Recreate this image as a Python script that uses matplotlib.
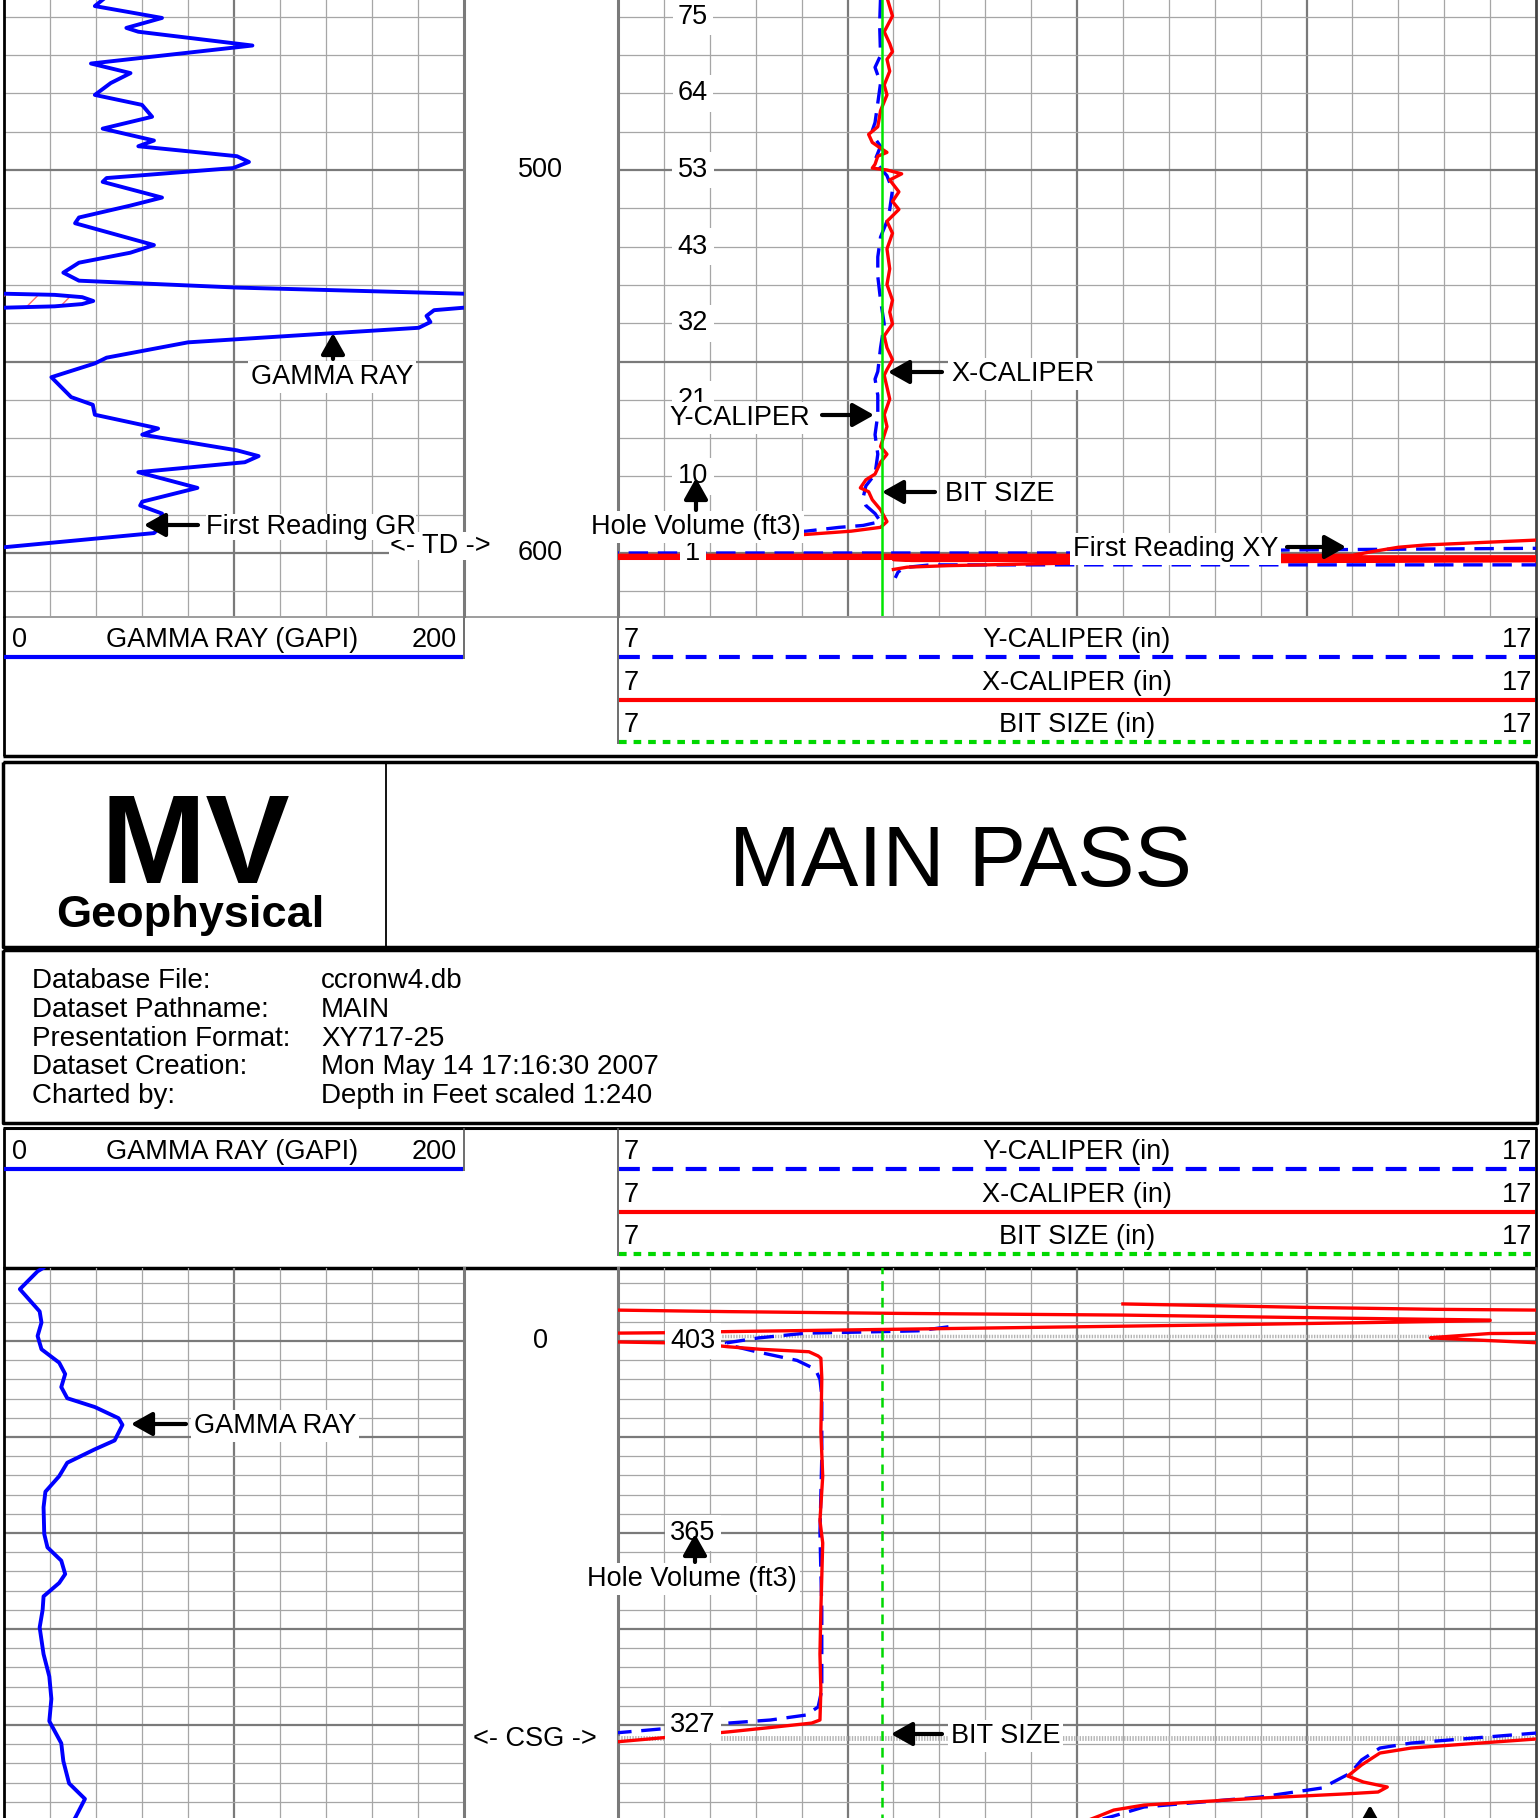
import numpy as np
import matplotlib
matplotlib.use("Agg")
import matplotlib.pyplot as plt

plt.rcParams["font.family"] = ["Liberation Sans", "DejaVu Sans"]
plt.rcParams["lines.scale_dashes"] = False
plt.rcParams["hatch.linewidth"] = 1.0

nan = np.nan

# ============================ DATA ============================
# ---- top section (depth ft) ----
gr_top_depth = [455.0, 457.2, 460.3, 462.9, 463.9, 467.5, 472.2, 474.7, 477.3, 480.4,
                483.0, 486.1, 489.2, 492.3, 493.8, 496.4, 497.9, 499.5, 502.1, 503.1,
                507.2, 509.3, 512.4, 513.9, 519.6, 521.6, 524.2, 526.8, 528.9, 530.7,
                532.3, 532.6, 533.2, 534.2, 535.0, 535.6, 535.95, 536.6, 538.1, 539.7,
                541.2, 542.6, 545.0, 549.0, 550.5, 554.1, 559.3, 561.3, 563.9, 567.0,
                567.5, 569.1, 573.2, 574.7, 576.3, 578.9, 583.0, 586.6, 587.6, 589.7,
                593.8, 594.8, 598.5, 598.7]
gr_top_val = [44.0, 39.5, 68.7, 53.2, 58.4, 108.0, 37.8, 55.0, 46.4, 39.5,
              60.0, 64.4, 42.9, 65.2, 58.4, 101.3, 106.5, 99.6, 44.6, 42.9,
              68.7, 54.9, 32.6, 30.9, 65.2, 54.9, 32.6, 25.8, 32.6, 101.3,
              200.0, 222.0, 234.0, 238.8, 234.0, 222.0, 200.0, 187.0, 183.7, 185.4,
              180.3, 143.0, 80.0, 44.6, 39.5, 20.6, 29.2, 38.6, 39.5, 63.5,
              67.0, 60.1, 101.3, 110.7, 104.7, 58.4, 84.1, 60.1, 59.2, 68.7,
              67.0, 65.2, 0.0, -5.0]

xcal_top_depth = [455.0, 459.8, 463.9, 467.0, 469.1, 471.1, 474.2, 477.8, 480.4, 484.5,
                  488.7, 490.7, 492.8, 494.3, 495.4, 496.4, 498.5, 499.5, 500.0, 501.0,
                  502.6, 505.7, 508.2, 510.3, 513.4, 516.5, 520.6, 525.8, 529.9, 534.0,
                  537.1, 540.2, 543.3, 546.4, 549.5, 552.1, 553.6, 556.7, 559.8, 563.9,
                  567.0, 572.2, 574.2, 576.3, 579.4, 580.9, 583.0, 584.0, 586.1, 588.7,
                  591.8, 593.3, 594.3, 595.1, 595.6, 596.1, 596.5, 596.7,
                  600.6, 600.6, 599.7, 598.5, 597.9, 596.6, 596.5, 601.0, 601.0,
                  601.4, 601.4, 601.7, 601.7, 601.95, 601.95, 602.2, 602.6, 603.3,
                  603.7, 604.3]
xcal_top_val = [9.93, 9.99, 9.90, 9.96, 9.99, 9.93, 9.96, 9.90, 9.93, 9.86,
                9.83, 9.73, 9.77, 9.86, 9.93, 9.83, 9.80, 9.77, 9.93, 10.09,
                9.96, 10.06, 9.99, 10.06, 9.93, 9.99, 9.93, 9.96, 9.93, 9.99,
                9.96, 9.99, 9.90, 9.93, 9.99, 9.93, 9.90, 9.93, 9.96, 9.90,
                9.93, 9.86, 9.93, 9.86, 9.80, 9.70, 9.64, 9.73, 9.77, 9.86,
                9.93, 9.86, 9.54, 9.08, 8.76, 7.9, 6.95, 6.0,
                6.0, 15.0, 15.2, 15.5, 15.8, 17.03, 17.5, 17.5, 6.0,
                6.0, 17.5, 17.5, 10.0, 10.2, 17.5, 14.5, 12.0, 10.6,
                10.15, 10.0]

ycal_top_depth = [455.0, 461.9, 470.1, 473.2, 477.3, 482.5, 487.6, 489.7, 491.8, 493.8,
                  497.4, 499.5, 501.5, 505.2, 510.3, 513.4, 517.5, 522.7, 527.8, 534.0,
                  540.2, 546.4, 552.6, 554.6, 558.8, 563.9, 569.1, 574.2, 579.4, 582.5,
                  585.6, 587.6, 589.7, 591.8, 592.8, 593.3, 594.3, 595.1, 595.9, 596.0,
                  600.0, 600.0, 599.2, 598.7, 603.1, 603.1, 603.8, 605.0, 606.5]
ycal_top_val = [9.86, 9.85, 9.86, 9.80, 9.86, 9.83, 9.80, 9.77, 9.80, 9.86,
                9.80, 9.86, 9.93, 9.99, 9.96, 9.93, 9.86, 9.83, 9.83, 9.86,
                9.90, 9.86, 9.83, 9.80, 9.83, 9.83, 9.80, 9.83, 9.80, 9.70,
                9.67, 9.70, 9.80, 9.86, 9.67, 9.41, 9.05, 8.43, 7.0, 6.0,
                6.0, 13.2, 14.3, 17.5, 17.5, 10.4, 10.12, 10.05, 10.02]

bit_top_depth = [455.0, 617.0]
bit_top_val = [9.875, 9.875]

vol_top_depth = [460, 480, 500, 520, 540, 560, 580, 600]
vol_top_label = ["75", "64", "53", "43", "32", "21", "10", "1"]
depth_top_label = [500, 600]

# ---- bottom section (depth ft) ----
gr_bot_depth = [-38.0, -36.3, -27.0, -15.4, -9.6, -2.6, 4.3, 11.3, 17.2, 24.0,
                29.8, 34.4, 40.2, 43.7, 51.8, 56.4, 63.4, 70.4, 78.5, 86.6,
                100.5, 107.5, 114.4, 121.4, 126.0, 133.0, 140.0, 149.2, 163.1, 174.7,
                186.4, 198.0, 209.5, 218.8, 230.4, 238.5, 248.5, 250.0]
gr_bot_val = [17.0, 14.6, 6.9, 15.5, 16.3, 14.6, 16.3, 24.0, 26.6, 24.9,
              27.5, 39.5, 49.8, 51.5, 48.1, 39.5, 27.5, 24.0, 18.0, 17.2,
              17.5, 18.9, 24.9, 26.6, 24.0, 17.2, 16.8, 15.5, 17.2, 19.7,
              20.6, 19.7, 24.9, 25.8, 28.3, 35.2, 30.9, 30.0]

xcal_bot_depth = [-19.3, -17.5, -16.5, -16.1, -15.9, nan,
                  -16.1, -15.3, -14.4, -13.5, -11.8, -10.9, -10.6, -9.5, -8.3, -6.1,
                  -4.9, -4.3, -4.1, -4.0, nan,
                  -4.0, -4.0, -3.9, -1.9, -1.6, -1.4, 0.9, 1.0, nan,
                  0.4, 0.5, 1.0, 2.0, 3.0, 4.3, 5.6, 7.8, 9.0, 19.3, 47.2, 70.4, 93.6,
                  105.2, 140.0, 163.0, 181.7, 197.4, 199.0, 201.0, 203.6, 208.8, 209.2, nan,
                  206.5, 207.3, 212.0, 214.6, 220.8, 226.6, 229.7, 232.3, 234.9, 235.9,
                  238.0, 241.7, 244.3, 247.4, 250.0]
xcal_bot_val = [12.5, 14.5, 15.9, 17.0, 17.5, nan,
                6.98, 8.2, 10.0, 12.5, 15.05, 16.5, 16.5, 15.05, 13.4, 10.0,
                8.2, 7.5, 6.98, 6.0, nan,
                17.5, 17.0, 16.5, 15.9, 15.85, 15.95, 17.0, 17.5, nan,
                6.0, 6.98, 7.6, 8.0, 8.2, 8.55, 9.08, 9.18, 9.21, 9.22, 9.21, 9.23, 9.2,
                9.23, 9.21, 9.2, 9.21, 9.2, 9.11, 8.72, 8.2, 6.98, 6.0, nan,
                17.5, 17.0, 15.64, 15.3, 15.1, 14.95, 15.12, 15.38, 15.28, 14.92,
                14.02, 12.73, 12.4, 12.24, 12.1]

ycal_bot_depth = [-7.4, -5.3, -4.7, -4.1, -1.6, 1.0, 2.0, 5.5, 10.1, 14.7, 20.0, 28.6,
                  60.0, 100.0, 140.0, 181.8, 190.6, 194.8, 197.4, 199.0, 203.6, 204.4, 205.0, nan,
                  203.5, 204.2, 209.4, 212.0, 218.2, 225.0, 232.8, 237.5, 242.7, 247.4, 250.0]
ycal_bot_val = [10.6, 10.27, 9.69, 9.05, 8.53, 8.18, 8.2, 8.5, 8.95, 9.15, 9.2, 9.22,
                9.22, 9.2, 9.22, 9.22, 9.18, 9.05, 8.66, 8.2, 7.1, 6.9, 6.0, nan,
                17.5, 17.0, 15.64, 15.3, 15.1, 14.98, 14.67, 14.0, 12.73, 12.4, 12.2]

bit_bot_depth = [-40.0, 250.0]
bit_bot_val = [9.875, 9.875]

vol_bot_depth = [0, 100, 200]
vol_bot_label = ["403", "365", "327"]
depth_bot_label = [0]
csg_depth = 206.6
marker_bot_depth = -2.6

gr_range = (0, 200)
cal_range = (7, 17)

info_keys = ["Database File:", "Dataset Pathname:", "Presentation Format:",
             "Dataset Creation:", "Charted by:"]
info_vals = ["ccronw4.db", "MAIN", "XY717-25", "Mon May 14 17:16:30 2007",
             "Depth in Feet scaled 1:240"]

# ============================ LAYOUT ============================
W, H = 1540, 1818
fig = plt.figure(figsize=(W / 100, H / 100), dpi=100)


def rect(x0, y0, x1, y1):
    return [x0 / W, 1 - y1 / H, (x1 - x0) / W, (y1 - y0) / H]


GR_X = (4, 464)
DT_X = (464, 618)
CAL_X = (618, 1536)
TOP_Y = (0, 616)
BOT_Y = (1268, 1818)


def d_top(y):
    return 500 + (y - 170) / 3.83


def d_bot(y):
    return (y - 1341) / 1.92


def gx(x):
    return (x - GR_X[0]) / (GR_X[1] - GR_X[0]) * 200


def cx(x):
    return 7 + (x - CAL_X[0]) / (CAL_X[1] - CAL_X[0]) * 10


TOP_LIM = (d_top(TOP_Y[1]), d_top(TOP_Y[0]))
BOT_LIM = (d_bot(BOT_Y[1]), d_bot(BOT_Y[0]))

BLUE = "#0000ff"
RED = "#ff0000"
GREEN_TOP = "#00e600"
GREEN = "#00d800"
FS = 19.5

bg = fig.add_axes([0, 0, 1, 1])
bg.set_xlim(0, W)
bg.set_ylim(H, 0)
bg.axis("off")


def bline(x, y, **kw):
    kw.setdefault("color", "black")
    kw.setdefault("lw", 2)
    bg.plot(x, y, solid_capstyle="butt", **kw)


def header(y0, top_line):
    if top_line:
        bline([3, 1537], [y0, y0], lw=2.2)
    bline([4, 4], [y0, y0 + 140])
    bline([1536, 1536], [y0, y0 + 140])
    bline([3, 1537], [y0 + 140, y0 + 140], lw=2.5)
    bline([464, 464], [y0, y0 + 43], lw=1.2, color="#555555")
    bline([618, 618], [y0, y0 + 128], lw=1.2, color="#555555")
    bg.text(12, y0 + 31, "0", fontsize=FS, ha="left", va="baseline")
    bg.text(232, y0 + 31, "GAMMA RAY (GAPI)", fontsize=FS, ha="center", va="baseline")
    bg.text(457, y0 + 31, "200", fontsize=FS, ha="right", va="baseline")
    bline([4, 463], [y0 + 41, y0 + 41], color=BLUE, lw=3)
    rows = [("Y-CALIPER (in)", 31, 41, dict(color=BLUE, lw=3, dashes=(15, 9))),
            ("X-CALIPER (in)", 74, 84, dict(color=RED, lw=3)),
            ("BIT SIZE (in)", 116, 126, dict(color=GREEN, lw=3, dashes=(5.5, 5)))]
    for name, tb, ly, st in rows:
        bg.text(624, y0 + tb, "7", fontsize=FS, ha="left", va="baseline")
        bg.text(1077, y0 + tb, name, fontsize=FS, ha="center", va="baseline")
        bg.text(1532, y0 + tb, "17", fontsize=FS, ha="right", va="baseline")
        bg.plot([619, 1535], [y0 + ly, y0 + ly], solid_capstyle="butt", **st)


bline([4, 1536], [616.5, 616.5], color="#8c8c8c", lw=1.2)
header(616, False)
header(1128, True)

# title box
bline([3, 1537, 1537, 3, 3], [762, 762, 947, 947, 762], lw=2.5)
bline([386, 386], [762, 947], lw=1.3)
bg.text(195, 883, "MV", fontsize=91, fontweight="bold", ha="center", va="baseline")
bg.text(190, 927, "Geophysical", fontsize=32.5, fontweight="bold", ha="center", va="baseline")
bg.text(960, 886, "MAIN PASS", fontsize=62, ha="center", va="baseline")

# info box
bline([3, 1537, 1537, 3, 3], [950, 950, 1123, 1123, 950], lw=2.5)
for i, (k, v) in enumerate(zip(info_keys, info_vals)):
    yb = 988 + i * 28.8
    bg.text(32, yb, k, fontsize=20, ha="left", va="baseline")
    bg.text(321, yb, v, fontsize=20, ha="left", va="baseline")


# ============================ TRACKS ============================
def track(xr, yr, xlim, ylim, xmaj, xmin, ymaj, ymin):
    ax = fig.add_axes(rect(xr[0], yr[0], xr[1], yr[1]))
    ax.set_xlim(*xlim)
    ax.set_ylim(*ylim)
    ax.set_xticks(xmaj)
    ax.set_xticks(xmin, minor=True)
    ax.set_yticks(ymaj)
    ax.set_yticks(ymin, minor=True)
    ax.tick_params(which="both", length=0, labelbottom=False, labelleft=False)
    ax.grid(which="minor", color="#a6a6a6", lw=0.9)
    ax.grid(which="major", color="#7a7a7a", lw=1.6)
    ax.set_axisbelow(True)
    ax.patch.set_alpha(0)
    for s in ["top", "bottom"]:
        ax.spines[s].set_visible(False)
    return ax


def depth_axes(yr, ylim):
    ax = fig.add_axes(rect(DT_X[0], yr[0], DT_X[1], yr[1]))
    ax.set_xlim(DT_X[0], DT_X[1])
    ax.set_ylim(*ylim)
    ax.axis("off")
    return ax


gr_minor = np.arange(20, 200, 20)
cal_minor = np.arange(7.5, 17, 0.5)
cal_major = [9.5, 12, 14.5]

arrow_style = dict(arrowstyle="-|>,head_length=0.8,head_width=0.45", color="black",
                   lw=3, mutation_scale=16, shrinkA=0, shrinkB=0)


def arrow(ax, head, tail):
    ax.annotate("", xy=head, xytext=tail, arrowprops=arrow_style,
                annotation_clip=False, zorder=13)


def label(ax, x, y, txt, ha="left", zorder=12, pad=0.1):
    ax.text(x, y, txt, fontsize=FS, ha=ha, va="baseline",
            bbox=dict(boxstyle="square,pad=%g" % pad, fc="white", ec="none"),
            clip_on=False, zorder=zorder)


def style_spines(gr_ax, cal_ax):
    gr_ax.spines["left"].set_color("black")
    gr_ax.spines["left"].set_linewidth(2)
    gr_ax.spines["right"].set_color("#7a7a7a")
    gr_ax.spines["right"].set_linewidth(2.2)
    cal_ax.spines["left"].set_color("#7a7a7a")
    cal_ax.spines["left"].set_linewidth(2.2)
    cal_ax.spines["right"].set_color("#444444")
    cal_ax.spines["right"].set_linewidth(2)


# ---------- top GR ----------
ax_gt = track(GR_X, TOP_Y, gr_range, TOP_LIM, [100], gr_minor,
              [500, 550, 600], np.arange(460, 620, 10))
gt_val = np.array(gr_top_val)
gt_dep = np.array(gr_top_depth)
ax_gt.plot(gt_val, gt_dep, color=BLUE, lw=2.8, solid_joinstyle="round", zorder=4)
wrap = gt_val >= 200
backup = np.where(wrap, gt_val - 200, np.nan)
ax_gt.fill_betweenx(gt_dep, 0, np.where(wrap, gt_val - 200, 0), where=wrap,
                    facecolor="none", edgecolor="#ff6a6a", hatch="/", lw=0, zorder=3)
ax_gt.plot(backup, gt_dep, color=BLUE, lw=2.8, zorder=4)
label(ax_gt, gx(440), d_top(553), "<- TD ->", ha="center", zorder=10, pad=0.02)
label(ax_gt, gx(332), d_top(384), "GAMMA RAY", ha="center")
arrow(ax_gt, (gx(333), d_top(333)), (gx(333), d_top(359)))
label(ax_gt, gx(206), d_top(534), "First Reading GR", zorder=11, pad=0.0)
arrow(ax_gt, (gx(144), d_top(525)), (gx(198), d_top(525)))

# ---------- top depth ----------
ax_dt = depth_axes(TOP_Y, TOP_LIM)
for d in depth_top_label:
    ax_dt.text(540, d, str(d), fontsize=FS, ha="center", va="center")

# ---------- top caliper ----------
ax_ct = track(CAL_X, TOP_Y, cal_range, TOP_LIM, cal_major, cal_minor,
              [500, 550, 600], np.arange(460, 620, 10))
ax_ct.plot(ycal_top_val, ycal_top_depth, color=BLUE, lw=2.4, dashes=(14, 7), zorder=4)
ax_ct.plot(xcal_top_val, xcal_top_depth, color=RED, lw=2.4, solid_joinstyle="round", zorder=5)
ax_ct.plot(bit_top_val, bit_top_depth, color=GREEN_TOP, lw=1.8, zorder=6)
for d, lab in zip(vol_top_depth, vol_top_label):
    ax_ct.text(cx(693), d, lab, fontsize=FS, ha="center", va="center",
               bbox=dict(boxstyle="square,pad=0.2", fc="white", ec="none"), zorder=8)
label(ax_ct, cx(951), d_top(381), "X-CALIPER")
arrow(ax_ct, (cx(888), d_top(372)), (cx(942), d_top(372)))
label(ax_ct, cx(810), d_top(425), "Y-CALIPER", ha="right")
arrow(ax_ct, (cx(874), d_top(415)), (cx(822), d_top(415)))
label(ax_ct, cx(945), d_top(501), "BIT SIZE")
arrow(ax_ct, (cx(882), d_top(492)), (cx(935), d_top(492)))
label(ax_ct, cx(696), d_top(534), "Hole Volume (ft3)", ha="center")
arrow(ax_ct, (cx(696), d_top(478)), (cx(696), d_top(510)))
label(ax_ct, cx(1073), d_top(556), "First Reading XY")
arrow(ax_ct, (cx(1346), d_top(547)), (cx(1287), d_top(547)))
style_spines(ax_gt, ax_ct)

# ---------- bottom GR ----------
ax_gb = track(GR_X, BOT_Y, gr_range, BOT_LIM, [100], gr_minor,
              [0, 50, 100, 150, 200], np.arange(-30, 250, 10))
ax_gb.plot(gr_bot_val, gr_bot_depth, color=BLUE, lw=2.8, solid_joinstyle="round", zorder=4)
label(ax_gb, gx(194), d_bot(1433), "GAMMA RAY")
arrow(ax_gb, (gx(131), d_bot(1424)), (gx(186), d_bot(1424)))

# ---------- bottom depth ----------
ax_db = depth_axes(BOT_Y, BOT_LIM)
for d in depth_bot_label:
    ax_db.text(540, d, str(d), fontsize=FS, ha="center", va="center")
ax_db.text(535, d_bot(1746), "<- CSG ->", fontsize=FS, ha="center", va="baseline")

# ---------- bottom caliper ----------
ax_cb = track(CAL_X, BOT_Y, cal_range, BOT_LIM, cal_major, cal_minor,
              [0, 50, 100, 150, 200], np.arange(-30, 250, 10))
ax_cb.plot([7, 17], [csg_depth, csg_depth], color="#b4b4b4", lw=3.5, dashes=(1, 1), zorder=3)
ax_cb.plot([8.1, 16.0], [marker_bot_depth, marker_bot_depth], color="#b4b4b4", lw=2.5,
           dashes=(1, 1), zorder=3)
ax_cb.plot(ycal_bot_val, ycal_bot_depth, color=BLUE, lw=2.4, dashes=(14, 7), zorder=4)
ax_cb.plot(xcal_bot_val, xcal_bot_depth, color=RED, lw=2.4, solid_joinstyle="round", zorder=5)
ax_cb.plot(bit_bot_val, bit_bot_depth, color=GREEN, lw=1.8, dashes=(7, 5), zorder=6)
for d, lab in zip(vol_bot_depth, vol_bot_label):
    ax_cb.text(cx(693), d, lab, fontsize=FS, ha="center", va="center",
               bbox=dict(boxstyle="square,pad=0.2", fc="white", ec="none"), zorder=8)
label(ax_cb, cx(692), d_bot(1586), "Hole Volume (ft3)", ha="center")
arrow(ax_cb, (cx(695), d_bot(1534)), (cx(695), d_bot(1562)))
label(ax_cb, cx(951), d_bot(1743), "BIT SIZE")
arrow(ax_cb, (cx(891), d_bot(1734)), (cx(942), d_bot(1734)))
arrow(ax_cb, (cx(1370), d_bot(1805)), (cx(1370), d_bot(1830)))
style_spines(ax_gb, ax_cb)

fig.savefig("out.png", dpi=100)
